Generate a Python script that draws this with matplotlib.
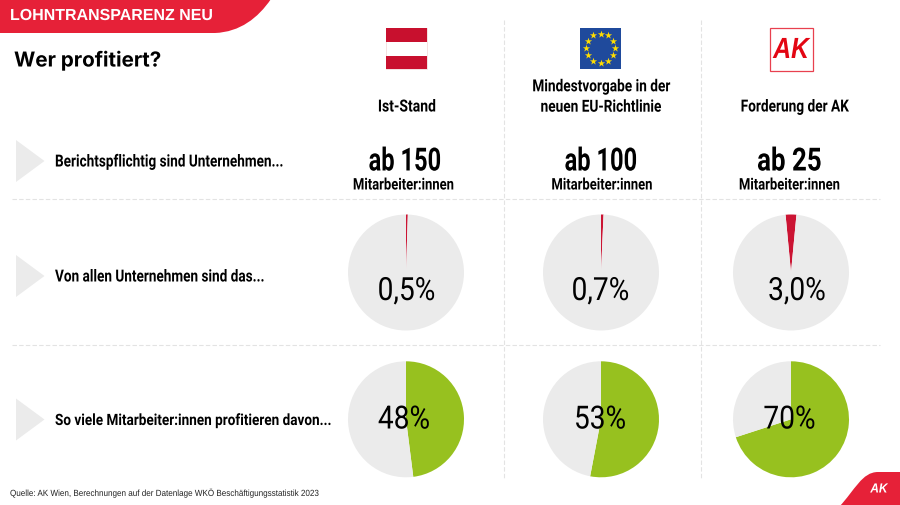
import matplotlib

matplotlib.use("Agg")
import matplotlib.patheffects as pe
import matplotlib.pyplot as plt
import numpy as np
from matplotlib.patches import PathPatch, Polygon, Rectangle
from matplotlib.path import Path
from matplotlib.text import Text
from matplotlib.transforms import Affine2D, Bbox

W, H = 900, 506

RED = "#e62138"
FLAG_RED = "#c8102e"
PIE_RED = "#cb1433"
GREEN = "#97c11f"
GREY = "#ebebeb"
LINE = "#e3e3e3"

columns = ["Ist-Stand", "Mindestvorgabe in der\nneuen EU-Richtlinie", "Forderung der AK"]
thresholds = ["ab 150", "ab 100", "ab 25"]
row_labels = [
    "Berichtspflichtig sind Unternehmen...",
    "Von allen Unternehmen sind das...",
    "So viele Mitarbeiter:innen profitieren davon...",
]
company_share = [0.5, 0.7, 3.0]
company_labels = ["0,5%", "0,7%", "3,0%"]
employee_share = [48, 53, 70]
employee_labels = ["48%", "53%", "70%"]

col_x = [406, 601, 791]
company_start = [90, 90, 95.4]


def py(y):
    return H - y - 1


class Squeeze(pe.AbstractPathEffect):
    def __init__(self, sx, x0):
        super().__init__()
        self.sx = sx
        self.x0 = x0

    def draw_path(self, renderer, gc, tpath, affine, rgbFace=None):
        squeeze = Affine2D().translate(-self.x0, 0).scale(self.sx, 1).translate(self.x0, 0)
        renderer.draw_path(gc, tpath, affine + squeeze, rgbFace)


# no condensed font installed, so the glyphs get narrowed when they are drawn
class NarrowText(Text):
    def __init__(self, x, y, s, sx, **kwargs):
        super().__init__(x, y, s, **kwargs)
        self.sx = sx
        self.x0 = x
        self.set_path_effects([Squeeze(sx, x)])

    def get_window_extent(self, renderer=None, dpi=None):
        bb = super().get_window_extent(renderer, dpi)
        x0 = self.x0
        return Bbox.from_extents(x0 + (bb.x0 - x0) * self.sx, bb.y0, x0 + (bb.x1 - x0) * self.sx, bb.y1)


def label(x, y, s, size, weight="normal", family="Roboto", color="black", ha="center", sx=1.0, style="normal"):
    t = NarrowText(x, py(y), s, sx, fontsize=size, fontweight=weight, family=family, fontstyle=style,
                   color=color, ha=ha, va="center", zorder=10, linespacing=1.45)
    ax.add_artist(t)


def draw_pie(x, y, value, color, start=90):
    ax.pie([value, 100 - value], colors=[color, GREY], center=(x, py(y)), radius=58,
           startangle=start, counterclock=False, wedgeprops={"linewidth": 0}, frame=True)


def curve(points, color):
    verts = [(x, py(y)) for x, y in points]
    codes = [Path.MOVETO, Path.LINETO, Path.LINETO, Path.LINETO, Path.CURVE4, Path.CURVE4,
             Path.CURVE4, Path.CLOSEPOLY]
    ax.add_patch(PathPatch(Path(verts, codes), fc=color, lw=0, zorder=5))


fig = plt.figure(figsize=(9, 5.06), dpi=100)
ax = fig.add_axes([0, 0, 1, 1])

for i, x in enumerate(col_x):
    draw_pie(x, 272.5, company_share[i], PIE_RED, company_start[i])
    draw_pie(x, 419.3, employee_share[i], GREEN)

for x, s in zip([406.5, 600.5, 797], company_labels):
    label(x, 291.5, s, 23, sx=0.88)
for x, s in zip([404, 600, 789.5], employee_labels):
    label(x, 420, s, 23, sx=0.88)

for x, s, sx in zip([405, 601, 789.5], thresholds, [0.74, 0.74, 0.81]):
    label(x, 161.5, s, 23, "bold", sx=sx)
for x in [403.5, 602, 789.5]:
    label(x, 185, "Mitarbeiter:innen", 11.5, "bold", sx=0.815)

label(407, 107, columns[0], 12, "bold", sx=0.84)
label(601, 97, columns[1], 12, "bold", sx=0.82)
label(794.5, 107, columns[2], 12, "bold", sx=0.82)

for y, s, size, sx in zip([161, 276, 419.5], row_labels, [12, 12, 11.25], [0.815, 0.815, 0.868]):
    ax.add_patch(Polygon([(16, py(y - 21)), (16, py(y + 21)), (44.5, py(y))], fc=GREY, lw=0))
    label(55, y + 1, s, size, "bold", ha="left", sx=sx)

# dashed separators
for y in [199, 345]:
    ax.plot([12, 880], [py(y), py(y)], color=LINE, lw=0.8, ls=(0, (4, 2)), zorder=1)
for x in [504, 700.5]:
    ax.plot([x, x], [py(20), py(480)], color=LINE, lw=0.8, ls=(0, (4, 2)), zorder=1)

# banners
curve([(0, -1), (0, 33), (215, 33), (215, 33), (240, 32), (258, 18), (271, -1), (0, -1)], RED)
curve([(900, 507), (839, 507), (839, 507), (839, 507), (855, 490), (862, 472), (878, 472), (900, 507)], RED)
ax.add_patch(Rectangle((878, py(507)), 22, 35, fc=RED, lw=0, zorder=5))
label(10, 15.5, "LOHNTRANSPARENZ NEU", 11.5, "bold", "Liberation Sans", "white", "left")
label(14, 61, "Wer profitiert?", 14.8, "bold", "Inter", ha="left")
label(10, 493, "Quelle: AK Wien, Berechnungen auf der Datenlage WKÖ Beschäftigungsstatistik 2023", 6.4,
      family="Liberation Sans", color="#222222", ha="left", sx=0.91)

# austrian flag
ax.add_patch(Rectangle((386, py(69)), 41, 41, fc="white", ec="#f3dcdc", lw=0.6))
ax.add_patch(Rectangle((386, py(41.5)), 41, 13.5, fc=FLAG_RED, lw=0))
ax.add_patch(Rectangle((386, py(69)), 41, 13.5, fc=FLAG_RED, lw=0))

# eu flag
ax.add_patch(Rectangle((580, py(68.5)), 41, 41, fc="#1f4a9c", lw=0))
angles = np.arange(12) * np.pi / 6
ax.scatter(600.5 + 14.5 * np.cos(angles), py(48) + 14.5 * np.sin(angles), marker="*", s=30,
           color="#ffdd00", lw=0, zorder=6)

# ak logo
ax.add_patch(Rectangle((769.5, py(71)), 43, 43, fc="white", ec="#e8404f", lw=0.9))
label(791, 50, "AK", 21, "bold", "Liberation Sans", "#e30613", sx=0.85, style="italic")
label(879, 489.5, "AK", 9.5, "bold", "Liberation Sans", "white", style="italic", sx=0.9)

ax.set_xlim(0, W)
ax.set_ylim(0, H)
ax.set_aspect("auto")
ax.axis("off")

fig.savefig("out.png", dpi=100)
